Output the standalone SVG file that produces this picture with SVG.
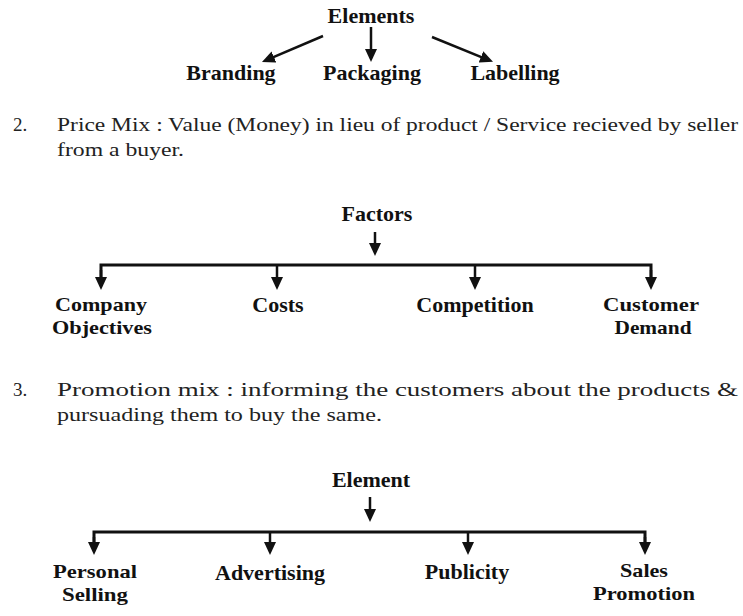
<svg xmlns="http://www.w3.org/2000/svg" width="743" height="616" viewBox="0 0 743 616">
<style>
.lbl{font-family:"Liberation Serif","Times New Roman",serif;font-weight:bold;font-size:22px;fill:#111;text-anchor:middle}
.two{font-size:19.5px}
.para{font-family:"Liberation Serif","Times New Roman",serif;font-size:19px;fill:#222}
.ln{stroke:#111;stroke-width:2.5;fill:none}
.bar{stroke:#111;stroke-width:3;fill:none}
</style>
<defs>
<marker id="ah" markerUnits="userSpaceOnUse" markerWidth="13" markerHeight="12" refX="5" refY="6" orient="auto">
<path d="M0,0 L13,6 L0,12 Z" fill="#111"/>
</marker>
</defs>
<rect width="743" height="616" fill="#fff"/>

<g id="elements"><text class="lbl" x="371" y="23">Elements</text></g>
<g id="branding"><text class="lbl" x="231" y="80">Branding</text></g>
<g id="packaging"><text class="lbl" x="372" y="80">Packaging</text></g>
<g id="labelling"><text class="lbl" x="515" y="80">Labelling</text></g>

<g id="para2">
<text class="para" x="13" y="131">2.</text>
<text class="para" x="57" y="131" textLength="681" lengthAdjust="spacingAndGlyphs">Price Mix : Value (Money) in lieu of product / Service recieved by seller</text>
<text class="para" x="57" y="156" textLength="127" lengthAdjust="spacingAndGlyphs">from a buyer.</text>
</g>

<g id="factors"><text class="lbl" x="377" y="221">Factors</text></g>
<g id="company"><text class="lbl two" x="101" y="311" textLength="92" lengthAdjust="spacingAndGlyphs">Company</text><text class="lbl two" x="102" y="334" textLength="100" lengthAdjust="spacingAndGlyphs">Objectives</text></g>
<g id="costs"><text class="lbl" x="278" y="312">Costs</text></g>
<g id="competition"><text class="lbl" x="475" y="312">Competition</text></g>
<g id="customer"><text class="lbl two" x="651" y="311" textLength="96" lengthAdjust="spacingAndGlyphs">Customer</text><text class="lbl two" x="653" y="334" textLength="77" lengthAdjust="spacingAndGlyphs">Demand</text></g>

<g id="para3">
<text class="para" x="13" y="396">3.</text>
<text class="para" x="57" y="396" textLength="681" lengthAdjust="spacingAndGlyphs">Promotion mix : informing the customers about the products &amp;</text>
<text class="para" x="57" y="421" textLength="325" lengthAdjust="spacingAndGlyphs">pursuading them to buy the same.</text>
</g>

<g id="element"><text class="lbl" x="371" y="487">Element</text></g>
<g id="personal"><text class="lbl two" x="95" y="578" textLength="84" lengthAdjust="spacingAndGlyphs">Personal</text><text class="lbl two" x="95" y="601" textLength="66" lengthAdjust="spacingAndGlyphs">Selling</text></g>
<g id="advertising"><text class="lbl" x="270" y="580">Advertising</text></g>
<g id="publicity"><text class="lbl" x="467" y="579">Publicity</text></g>
<g id="sales"><text class="lbl two" x="644" y="577" textLength="48" lengthAdjust="spacingAndGlyphs">Sales</text><text class="lbl two" x="644" y="600" textLength="102" lengthAdjust="spacingAndGlyphs">Promotion</text></g>

<g id="connectors">
<line class="ln" x1="323" y1="36" x2="269.3" y2="58.9" marker-end="url(#ah)"/>
<line class="ln" x1="371" y1="27" x2="371" y2="54" marker-end="url(#ah)"/>
<line class="ln" x1="432" y1="37" x2="485.6" y2="58.8" marker-end="url(#ah)"/>

<line class="ln" x1="375" y1="232" x2="375" y2="248" marker-end="url(#ah)"/>
<polyline class="bar" points="101,282 101,265 651,265 651,282"/>
<line class="ln" x1="101" y1="270" x2="101" y2="282" marker-end="url(#ah)"/>
<line class="ln" x1="277" y1="265" x2="277" y2="282" marker-end="url(#ah)"/>
<line class="ln" x1="475" y1="265" x2="475" y2="282" marker-end="url(#ah)"/>
<line class="ln" x1="651" y1="270" x2="651" y2="282" marker-end="url(#ah)"/>

<line class="ln" x1="370" y1="497" x2="370" y2="514" marker-end="url(#ah)"/>
<polyline class="bar" points="94,547 94,532 645,532 645,547"/>
<line class="ln" x1="94" y1="537" x2="94" y2="547" marker-end="url(#ah)"/>
<line class="ln" x1="270" y1="532" x2="270" y2="547" marker-end="url(#ah)"/>
<line class="ln" x1="468" y1="532" x2="468" y2="547" marker-end="url(#ah)"/>
<line class="ln" x1="645" y1="537" x2="645" y2="547" marker-end="url(#ah)"/>
</g>
</svg>
